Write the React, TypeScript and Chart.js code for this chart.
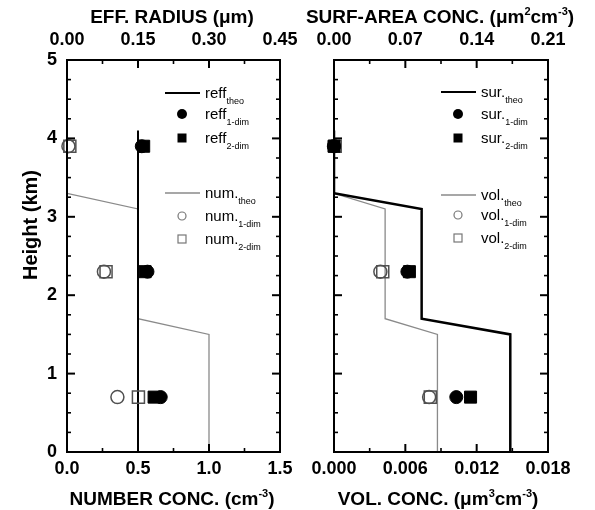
import React, { useEffect, useRef } from 'react';
import { Chart, registerables } from 'chart.js';

Chart.register(...registerables);

const FONT = "'Liberation Sans', Arial, Helvetica, sans-serif";

// ---------------- Data ----------------
const obsHeights = [3.9, 2.3, 0.7];
const theoHeights = [4.1, 3.3, 3.1, 1.7, 1.5, 0.0];
const reffTheoHeights = [4.1, 0.0];

// left panel (effective radius on top axis, number conc. on bottom axis)
const reffTheo = [0.15, 0.15];
const reff1Dim = [0.158, 0.17, 0.198];
const reff2Dim = [0.162, 0.165, 0.184];
const numTheo = [0.0, 0.0, 0.5, 0.5, 1.0, 1.0];
const num1Dim = [0.01, 0.26, 0.355];
const num2Dim = [0.02, 0.275, 0.503];

// right panel (surface-area conc. on top axis, volume conc. on bottom axis)
const surTheo = [0.0, 0.0, 0.086, 0.086, 0.173, 0.173];
const sur1Dim = [0.0, 0.072, 0.12];
const sur2Dim = [0.0, 0.074, 0.134];
const volTheo = [0.0, 0.0, 0.0043, 0.0043, 0.0087, 0.0087];
const vol1Dim = [0.0, 0.0039, 0.008];
const vol2Dim = [0.0001, 0.0041, 0.0081];

// tick labels
const heightTicks = [0, 1, 2, 3, 4, 5];
const numberTicks = [0.0, 0.5, 1.0, 1.5];
const radiusTicks = [0.0, 0.15, 0.3, 0.45];
const volTicks = [0.0, 0.006, 0.012, 0.018];
const surfTicks = [0.0, 0.07, 0.14, 0.21];

// ---------------- Helpers ----------------
type Part = [string, 'n' | 'sup' | 'sub'];

const pts = (xs: number[], ys: number[]) => xs.map((x, i) => ({ x, y: ys[i] }));

function drawRich(ctx: CanvasRenderingContext2D, parts: Part[], x: number, y: number, size: number, small: number, weight: string, align: 'center' | 'left', supRise: number, subDrop: number) {
  const f = (k: string) => `${weight} ${k === 'n' ? size : small}px ${FONT}`;
  let total = 0;
  parts.forEach(([t, k]) => { ctx.font = f(k); total += ctx.measureText(t).width; });
  let cx = align === 'center' ? x - total / 2 : x;
  ctx.textAlign = 'left';
  ctx.textBaseline = 'alphabetic';
  parts.forEach(([t, k]) => {
    ctx.font = f(k);
    const dy = k === 'sup' ? -supRise : k === 'sub' ? subDrop : 0;
    ctx.fillText(t, cx, y + dy);
    cx += ctx.measureText(t).width;
  });
}

type LegendRow = { kind: 'line' | 'fcircle' | 'frect' | 'ocircle' | 'orect'; color: string; lw?: number; y: number; main: string; sub: string };

interface DecorOpts {
  id: string;
  xTopMajor: number[];
  xBottomMajor: number[];
  yMajor: number[];
  legendX: number;
  legend: LegendRow[];
  topTitle: Part[];
  bottomTitle: Part[];
  topTitleX: number;
  bottomTitleX: number;
  yTitle: boolean;
}

function decorPlugin(o: DecorOpts) {
  return {
    id: o.id,
    afterDraw(chart: any) {
      const ctx: CanvasRenderingContext2D = chart.ctx;
      const ca = chart.chartArea;
      const xb = chart.scales.x;
      const xt = chart.scales.xTop;
      const ys = chart.scales.y;
      ctx.save();
      ctx.strokeStyle = '#000';
      ctx.fillStyle = '#000';
      ctx.lineCap = 'butt';
      const seg = (x1: number, y1: number, x2: number, y2: number, w: number) => {
        ctx.lineWidth = w;
        ctx.beginPath();
        ctx.moveTo(x1, y1);
        ctx.lineTo(x2, y2);
        ctx.stroke();
      };
      const MAJ = 8, MIN = 4;
      const mids = (a: number[]) => a.slice(1).map((v, i) => (v + a[i]) / 2);
      o.xBottomMajor.forEach(v => { const p = xb.getPixelForValue(v); seg(p, ca.bottom, p, ca.bottom - MAJ, 2); });
      mids(o.xBottomMajor).forEach(v => { const p = xb.getPixelForValue(v); seg(p, ca.bottom, p, ca.bottom - MIN, 1.6); });
      o.xTopMajor.forEach(v => { const p = xt.getPixelForValue(v); seg(p, ca.top, p, ca.top + MAJ, 2); });
      mids(o.xTopMajor).forEach(v => { const p = xt.getPixelForValue(v); seg(p, ca.top, p, ca.top + MIN, 1.6); });
      o.yMajor.forEach(v => {
        const p = ys.getPixelForValue(v);
        seg(ca.left, p, ca.left + MAJ, p, 2);
        seg(ca.right, p, ca.right - MAJ, p, 2);
      });
      const q: number[] = [];
      for (let i = 0; i < o.yMajor.length - 1; i++) {
        const a = o.yMajor[i], b = o.yMajor[i + 1];
        for (let k = 1; k < 4; k++) q.push(a + (b - a) * k / 4);
      }
      q.forEach(v => {
        const p = ys.getPixelForValue(v);
        seg(ca.left, p, ca.left + MIN, p, 1.6);
        seg(ca.right, p, ca.right - MIN, p, 1.6);
      });
      ctx.lineWidth = 2;
      ctx.strokeRect(ca.left, ca.top, ca.right - ca.left, ca.bottom - ca.top);

      // legend
      const mx = o.legendX;
      o.legend.forEach(r => {
        ctx.strokeStyle = r.color;
        ctx.fillStyle = r.color;
        if (r.kind === 'line') {
          seg(mx - 17, r.y, mx + 18, r.y, r.lw || 2);
        } else if (r.kind === 'fcircle') {
          ctx.beginPath(); ctx.arc(mx, r.y, 5, 0, Math.PI * 2); ctx.fill();
        } else if (r.kind === 'frect') {
          ctx.fillRect(mx - 4.5, r.y - 4.5, 9, 9);
        } else if (r.kind === 'ocircle') {
          ctx.lineWidth = 1.2; ctx.beginPath(); ctx.arc(mx, r.y, 4, 0, Math.PI * 2); ctx.stroke();
        } else {
          ctx.lineWidth = 1.2; ctx.strokeRect(mx - 4, r.y - 4, 8, 8);
        }
        ctx.fillStyle = '#000';
        drawRich(ctx, [[r.main, 'n'], [r.sub, 'sub']], mx + 23, r.y + 5, 15, 9, 'normal', 'left', 0, 6);
      });

      // axis titles
      ctx.fillStyle = '#000';
      drawRich(ctx, o.topTitle, o.topTitleX, 23, 19, 11, 'bold', 'center', 8, 0);
      drawRich(ctx, o.bottomTitle, o.bottomTitleX, 505, 19, 11, 'bold', 'center', 8, 0);
      if (o.yTitle) {
        ctx.save();
        ctx.translate(37, 225);
        ctx.rotate(-Math.PI / 2);
        drawRich(ctx, [['Height (km)', 'n']], 0, 0, 20, 12, 'bold', 'center', 0, 0);
        ctx.restore();
      }
      ctx.restore();
    },
  };
}

const tickFont = { family: FONT, size: 18, weight: 'bold' as const };

function xScale(position: 'top' | 'bottom', values: number[], decimals: number, size: number) {
  return {
    type: 'linear' as const,
    position,
    min: values[0],
    max: values[values.length - 1],
    afterBuildTicks: (s: any) => { s.ticks = values.map(v => ({ value: v })); },
    afterFit: (s: any) => { s.height = size; },
    ticks: {
      font: tickFont,
      color: '#000',
      padding: position === 'top' ? 9 : 6,
      maxRotation: 0,
      autoSkip: false,
      callback: (v: any) => Number(v).toFixed(decimals),
    },
    grid: { display: false, drawTicks: false },
    border: { display: false },
  };
}

function yScale(show: boolean) {
  return {
    type: 'linear' as const,
    position: 'left' as const,
    display: show,
    min: 0,
    max: 5,
    afterBuildTicks: (s: any) => { s.ticks = heightTicks.map(v => ({ value: v })); },
    afterFit: (s: any) => { s.width = show ? 67 : 0; },
    ticks: { font: tickFont, color: '#000', padding: 10, callback: (v: any) => String(v) },
    grid: { display: false, drawTicks: false },
    border: { display: false },
  };
}

const GRAY = '#8a8a8a';
const OPEN = '#505050';

function pointSet(label: string, data: any[], axis: string, style: 'circle' | 'rect', filled: boolean) {
  return {
    label,
    data,
    xAxisID: axis,
    yAxisID: 'y',
    showLine: false,
    pointStyle: style,
    pointRadius: style === 'rect' ? 8.5 : 6.5,
    pointBackgroundColor: filled ? '#000' : 'rgba(0,0,0,0)',
    pointBorderColor: filled ? '#000' : OPEN,
    pointBorderWidth: filled ? 1 : 1.5,
    backgroundColor: filled ? '#000' : 'rgba(0,0,0,0)',
    borderColor: filled ? '#000' : OPEN,
    clip: false as any,
  };
}

function lineSet(label: string, data: any[], axis: string, color: string, width: number) {
  return {
    label,
    data,
    xAxisID: axis,
    yAxisID: 'y',
    showLine: true,
    borderColor: color,
    borderWidth: width,
    pointRadius: 0,
    tension: 0,
    fill: false,
  };
}

function leftConfig(): any {
  return {
    type: 'scatter',
    data: {
      datasets: [
        pointSet('reff 2-dim', pts(reff2Dim, obsHeights), 'xTop', 'rect', true),
        pointSet('reff 1-dim', pts(reff1Dim, obsHeights), 'xTop', 'circle', true),
        pointSet('num 2-dim', pts(num2Dim, obsHeights), 'x', 'rect', false),
        pointSet('num 1-dim', pts(num1Dim, obsHeights), 'x', 'circle', false),
        lineSet('reff theo', pts(reffTheo, reffTheoHeights), 'xTop', '#000', 2),
        lineSet('num theo', pts(numTheo, theoHeights), 'x', GRAY, 1.3),
      ],
    },
    options: {
      responsive: false,
      animation: false,
      devicePixelRatio: 1,
      events: [],
      layout: { padding: { left: 0, right: 30, top: 0, bottom: 0 } },
      scales: {
        x: xScale('bottom', numberTicks, 1, 58),
        xTop: xScale('top', radiusTicks, 2, 60),
        y: yScale(true),
      },
      plugins: { legend: { display: false }, tooltip: { enabled: false } },
    },
    plugins: [decorPlugin({
      id: 'decorLeft',
      xTopMajor: radiusTicks,
      xBottomMajor: numberTicks,
      yMajor: heightTicks,
      legendX: 182,
      legend: [
        { kind: 'line', color: '#000', lw: 2, y: 93, main: 'reff', sub: 'theo' },
        { kind: 'fcircle', color: '#000', y: 114, main: 'reff', sub: '1-dim' },
        { kind: 'frect', color: '#000', y: 138, main: 'reff', sub: '2-dim' },
        { kind: 'line', color: GRAY, lw: 1.3, y: 193, main: 'num.', sub: 'theo' },
        { kind: 'ocircle', color: '#777', y: 216, main: 'num.', sub: '1-dim' },
        { kind: 'orect', color: '#777', y: 239, main: 'num.', sub: '2-dim' },
      ],
      topTitle: [['EFF. RADIUS (μm)', 'n']],
      bottomTitle: [['NUMBER CONC. (cm', 'n'], ['-3', 'sup'], [')', 'n']],
      topTitleX: 172,
      bottomTitleX: 172,
      yTitle: true,
    })],
  };
}

function rightConfig(): any {
  return {
    type: 'scatter',
    data: {
      datasets: [
        pointSet('sur 2-dim', pts(sur2Dim, obsHeights), 'xTop', 'rect', true),
        pointSet('sur 1-dim', pts(sur1Dim, obsHeights), 'xTop', 'circle', true),
        pointSet('vol 2-dim', pts(vol2Dim, obsHeights), 'x', 'rect', false),
        pointSet('vol 1-dim', pts(vol1Dim, obsHeights), 'x', 'circle', false),
        lineSet('sur theo', pts(surTheo, theoHeights), 'xTop', '#000', 2.5),
        lineSet('vol theo', pts(volTheo, theoHeights), 'x', GRAY, 1.3),
      ],
    },
    options: {
      responsive: false,
      animation: false,
      devicePixelRatio: 1,
      events: [],
      layout: { padding: { left: 34, right: 47, top: 0, bottom: 0 } },
      scales: {
        x: xScale('bottom', volTicks, 3, 58),
        xTop: xScale('top', surfTicks, 2, 60),
        y: yScale(false),
      },
      plugins: { legend: { display: false }, tooltip: { enabled: false } },
    },
    plugins: [decorPlugin({
      id: 'decorRight',
      xTopMajor: surfTicks,
      xBottomMajor: volTicks,
      yMajor: heightTicks,
      legendX: 158,
      legend: [
        { kind: 'line', color: '#000', lw: 2, y: 92, main: 'sur.', sub: 'theo' },
        { kind: 'fcircle', color: '#000', y: 114, main: 'sur.', sub: '1-dim' },
        { kind: 'frect', color: '#000', y: 138, main: 'sur.', sub: '2-dim' },
        { kind: 'line', color: GRAY, lw: 1.3, y: 195, main: 'vol.', sub: 'theo' },
        { kind: 'ocircle', color: '#777', y: 215, main: 'vol.', sub: '1-dim' },
        { kind: 'orect', color: '#777', y: 238, main: 'vol.', sub: '2-dim' },
      ],
      topTitle: [['SURF-AREA CONC. (μm', 'n'], ['2', 'sup'], ['cm', 'n'], ['-3', 'sup'], [')', 'n']],
      bottomTitle: [['VOL. CONC. (μm', 'n'], ['3', 'sup'], ['cm', 'n'], ['-3', 'sup'], [')', 'n']],
      topTitleX: 140,
      bottomTitleX: 138,
      yTitle: false,
    })],
  };
}

function Panel({ make, left, width }: { make: () => any; left: number; width: number }) {
  const ref = useRef<HTMLCanvasElement>(null);
  useEffect(() => {
    const chart = new Chart(ref.current as HTMLCanvasElement, make());
    return () => chart.destroy();
  }, [make]);
  return (
    <canvas
      ref={ref}
      width={width}
      height={510}
      style={{ position: 'absolute', left, top: 0, width, height: 510, display: 'block' }}
    />
  );
}

export default function App() {
  return (
    <div style={{ position: 'fixed', left: 0, top: 0, width: 595, height: 510, background: '#fff', overflow: 'hidden' }}>
      <Panel make={rightConfig} left={300} width={295} />
      <Panel make={leftConfig} left={0} width={310} />
    </div>
  );
}
